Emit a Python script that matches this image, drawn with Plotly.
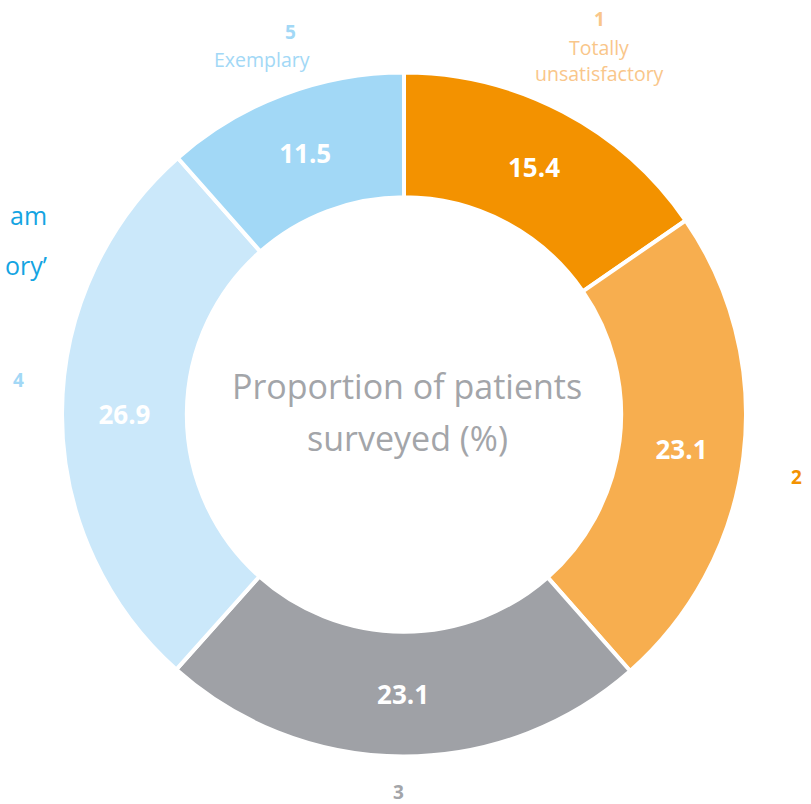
import plotly.graph_objects as go

categories = ["1", "2", "3", "4", "5"]
values = [15.4, 23.1, 23.1, 26.9, 11.5]
value_labels = ["15.4", "23.1", "23.1", "26.9", "11.5"]
colors = ["#F39200", "#F7AE4F", "#9FA1A6", "#CBE8FA", "#A2D8F6"]

W, H = 811, 804

fig = go.Figure(go.Pie(
    labels=categories,
    values=values,
    text=value_labels,
    textinfo="text",
    textposition="inside",
    insidetextorientation="horizontal",
    textfont=dict(family="Open Sans", size=26, color="white", weight="bold"),
    marker=dict(colors=colors, line=dict(color="white", width=4)),
    hole=0.635,
    sort=False,
    direction="clockwise",
    rotation=0,
    showlegend=False,
    hoverinfo="skip",
    domain=dict(x=[(404 - 342) / W, (404 + 342) / W], y=[1 - 757 / H, 1 - 72 / H]),
))

def px(x, y):
    return x / W, 1 - y / H

annots = [
    (407, 386, "Proportion of patients", 34, "#A3A5A9", "normal"),
    (407, 438, "surveyed (%)", 34, "#A3A5A9", "normal"),
    (290, 32, "5", 19, "#A2D8F6", "bold"),
    (262, 60, "Exemplary", 19.5, "#A2D8F6", "normal"),
    (599, 19, "1", 19, "#F9C68A", "bold"),
    (599, 47, "Totally", 19.5, "#F9C68A", "normal"),
    (599, 73, "unsatisfactory", 19.5, "#F9C68A", "normal"),
    (796, 477, "2", 19, "#F39200", "bold"),
    (398, 792, "3", 19, "#A3A5A9", "bold"),
    (18, 380, "4", 19, "#A2D8F6", "bold"),
]
for x, y, t, s, c, w in annots:
    ax, ay = px(x, y)
    fig.add_annotation(x=ax, y=ay, xref="paper", yref="paper", text=t, showarrow=False,
                       xanchor="center", yanchor="middle",
                       font=dict(family="Open Sans", size=s, color=c, weight=w))

for y, t in [(215, "am"), (265, "ory’")]:
    ax, ay = px(49, y)
    fig.add_annotation(x=ax, y=ay, xref="paper", yref="paper", text=t, showarrow=False,
                       xanchor="right", yanchor="middle",
                       font=dict(family="Open Sans", size=25, color="#14A4E2"))

fig.update_layout(width=W, height=H, margin=dict(l=0, r=0, t=0, b=0),
                  paper_bgcolor="white", plot_bgcolor="white")
fig.write_html("out.html", config={"displayModeBar": False},
               post_script="document.body.style.margin='0';document.body.style.overflow='hidden';")
